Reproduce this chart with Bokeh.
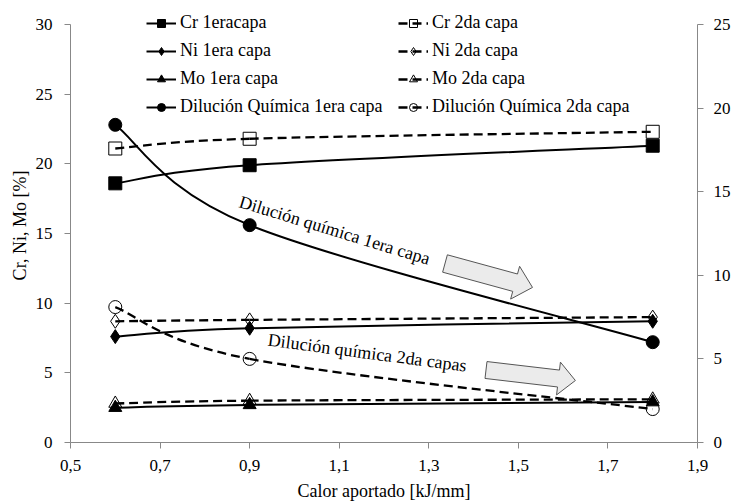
import math
from bokeh.plotting import figure
from bokeh.models import (Range1d, LinearAxis, Legend, LegendItem, Label,
                          CustomJSTickFormatter, FixedTicker, ColumnDataSource)
from bokeh.embed import file_html
from bokeh.resources import INLINE

# ---------------- data ----------------
calor = [0.6, 0.9, 1.8]                 # Calor aportado [kJ/mm]
cr_1 = [18.6, 19.9, 21.3]
cr_2 = [21.1, 21.8, 22.3]
ni_1 = [7.6, 8.2, 8.7]
ni_2 = [8.7, 8.8, 9.0]
mo_1 = [2.5, 2.7, 2.9]
mo_2 = [2.8, 3.0, 3.1]
dil_1 = [19.0, 13.0, 6.0]               # Dilución química (eje derecho)
dil_2 = [8.1, 5.0, 2.0]

x_ticks = [0.5, 0.7, 0.9, 1.1, 1.3, 1.5, 1.7, 1.9]
y_ticks_left = [0, 5, 10, 15, 20, 25, 30]
y_ticks_right = [0, 5, 10, 15, 20, 25]

labels_1 = ["Cr 1eracapa", "Ni 1era capa", "Mo 1era capa", "Dilución Química 1era capa"]
labels_2 = ["Cr 2da capa", "Ni 2da capa", "Mo 2da capa", "Dilución Química 2da capa"]

# ---------------- layout ----------------
FONT = "Liberation Serif"
FW = 627
AXIS_H = 418            # pixel height of the 0..30 axis
EXT = 16                # extra frame room above the axis top (for the legend)
FH = AXIS_H + EXT
XR = (0.5, 1.9)
YL_AX = (0, 30)
YR_AX = (0, 25)
px_x = FW / (XR[1] - XR[0])
px_y = AXIS_H / (YL_AX[1] - YL_AX[0])
YL = (0, YL_AX[1] + EXT / px_y)
YR = (0, YR_AX[1] * YL[1] / YL_AX[1])
AX_COL = "#888888"

p = figure(frame_width=FW, frame_height=FH, x_range=Range1d(*XR), y_range=Range1d(*YL),
           output_backend="svg", toolbar_location=None, title=None,
           min_border_left=70, min_border_right=56, min_border_top=24 - EXT, min_border_bottom=58)
p.extra_y_ranges = {"dil": Range1d(*YR)}
p.outline_line_color = None
p.grid.visible = False
p.background_fill_color = "white"
p.border_fill_color = "white"


def to_data(fx, fy):
    """pixel offsets from the axis' top-left corner -> left-axis data coords"""
    return XR[0] + fx / px_x, YL_AX[1] - fy / px_y


def smooth_src(xs, ys):
    n = len(xs)
    d = dict(x0=[], y0=[], x1=[], y1=[], cx0=[], cy0=[], cx1=[], cy1=[])
    for i in range(n - 1):
        im, ip = max(i - 1, 0), min(i + 2, n - 1)
        d["x0"].append(xs[i]); d["y0"].append(ys[i])
        d["x1"].append(xs[i + 1]); d["y1"].append(ys[i + 1])
        d["cx0"].append(xs[i] + (xs[i + 1] - xs[im]) / 6)
        d["cy0"].append(ys[i] + (ys[i + 1] - ys[im]) / 6)
        d["cx1"].append(xs[i + 1] - (xs[ip] - xs[i]) / 6)
        d["cy1"].append(ys[i + 1] - (ys[ip] - ys[i]) / 6)
    return ColumnDataSource(d)


def curve(ys, dashed, rng=None):
    kw = dict(line_color="black", line_width=2)
    if dashed:
        kw["line_dash"] = "9 5"
        kw["line_width"] = 2.3
    if rng:
        kw["y_range_name"] = rng
    return p.bezier(x0="x0", y0="y0", x1="x1", y1="y1", cx0="cx0", cy0="cy0",
                    cx1="cx1", cy1="cy1", source=smooth_src(calor, ys), **kw)


def pts(ys, marker, size, filled, rng=None):
    kw = dict(marker=marker, size=size, line_color="black", line_width=1)
    kw["fill_color"] = "black" if filled else None
    if rng:
        kw["y_range_name"] = rng
    return p.scatter(calor, ys, **kw)


# second layer (dashed, open markers)
c_cr2 = curve(cr_2, True); c_ni2 = curve(ni_2, True); c_mo2 = curve(mo_2, True)
c_d2 = curve(dil_2, True, "dil")
# first layer (solid, filled markers)
c_cr1 = curve(cr_1, False); c_ni1 = curve(ni_1, False); c_mo1 = curve(mo_1, False)
c_d1 = curve(dil_1, False, "dil")

s_cr2 = pts(cr_2, "square", 13, False)
s_ni2 = pts(ni_2, "diamond", 14, False)
s_mo2 = pts(mo_2, "triangle", 13, False)
s_d2 = pts(dil_2, "circle", 13, False, "dil")
s_cr1 = pts(cr_1, "square", 13, True)
s_ni1 = pts(ni_1, "diamond", 14, True)
s_mo1 = pts(mo_1, "triangle", 13, True)
s_d1 = pts(dil_1, "circle", 13, True, "dil")

# ---------------- axes ----------------
fmt_dec = CustomJSTickFormatter(code="return tick.toFixed(1).replace('.', ',');")
fmt_int = CustomJSTickFormatter(code="return tick.toFixed(0);")

xa = p.xaxis[0]
xa.ticker = FixedTicker(ticks=x_ticks)
xa.formatter = fmt_dec
xa.axis_label = "Calor aportado [kJ/mm]"
xa.major_label_standoff = 11
xa.axis_label_standoff = 7

ya = p.yaxis[0]
ya.ticker = FixedTicker(ticks=y_ticks_left)
ya.formatter = fmt_int
ya.bounds = YL_AX
ya.axis_label = "Cr, Ni, Mo [%]"
ya.major_label_standoff = 12
ya.axis_label_standoff = 3

ra = LinearAxis(y_range_name="dil", ticker=FixedTicker(ticks=y_ticks_right), formatter=fmt_int)
ra.bounds = YR_AX
ra.major_label_standoff = 10
p.add_layout(ra, "right")

for ax in (xa, ya, ra):
    ax.axis_line_color = AX_COL
    ax.axis_line_width = 1
    ax.major_tick_line_color = AX_COL
    ax.minor_tick_line_color = None
    ax.major_tick_in = 0
    ax.major_tick_out = 6
    ax.major_label_text_font = FONT
    ax.major_label_text_font_size = "17px"
    ax.major_label_text_color = "black"
    ax.axis_label_text_font = FONT
    ax.axis_label_text_font_size = "18px"
    ax.axis_label_text_font_style = "normal"
    ax.axis_label_text_color = "black"

# right axis title (reads bottom-to-top)
rx, ry = to_data(FW + 43, AXIS_H / 2)
p.add_layout(Label(x=rx, y=ry, text="Dilución Química [%]", angle=90, angle_units="deg",
                   text_align="center", text_baseline="middle", text_font=FONT,
                   text_font_size="18px", text_color="black"))

# ---------------- block arrows ----------------
def block_arrow(fx, fy, ang, length, bh, hh, hl):
    local = [(0, -bh / 2), (length - hl, -bh / 2), (length - hl, -hh / 2), (length, 0),
             (length - hl, hh / 2), (length - hl, bh / 2), (0, bh / 2)]
    a = math.radians(ang)
    xs, ys = [], []
    for lx, ly in local:
        sx = fx + lx * math.cos(a) - ly * math.sin(a)
        sy = fy + lx * math.sin(a) + ly * math.cos(a)
        dx, dy = to_data(sx, sy)
        xs.append(dx); ys.append(dy)
    p.patch(xs, ys, fill_color="#ebebeb", line_color="#555555", line_width=1)

block_arrow(374.5, 239, 15.3, 90.7, 18, 34, 18)
block_arrow(415.5, 345.5, 6.7, 90, 17, 33, 17)

# ---------------- annotations ----------------
p.add_layout(Label(x=0.878, y=17.32, text="Dilución química 1era capa", angle=-17,
                   angle_units="deg", text_align="left", text_baseline="middle",
                   text_font=FONT, text_font_size="18px", text_color="black"))
p.add_layout(Label(x=0.941, y=7.38, text="Dilución química 2da capas", angle=-7.5,
                   angle_units="deg", text_align="left", text_baseline="middle",
                   text_font=FONT, text_font_size="18px", text_color="black"))

# ---------------- legends ----------------
def make_legend(labels, rends, loc):
    items = [LegendItem(label=l, renderers=list(r)) for l, r in zip(labels, rends)]
    lg = Legend(items=items, location=loc, orientation="vertical")
    lg.label_text_font = FONT
    lg.label_text_font_size = "18px"
    lg.label_text_color = "black"
    lg.glyph_width = 30
    lg.glyph_height = 20
    lg.label_height = 20
    lg.spacing = 7
    lg.padding = 0
    lg.margin = 0
    lg.label_standoff = 4
    lg.border_line_color = None
    lg.background_fill_alpha = 0
    return lg

leg1 = make_legend(labels_1, [(c_cr1, s_cr1), (c_ni1, s_ni1), (c_mo1, s_mo1), (c_d1, s_d1)], (76, 325))
leg2 = make_legend(labels_2, [(c_cr2, s_cr2), (c_ni2, s_ni2), (c_mo2, s_mo2), (c_d2, s_d2)], (328, 325))
p.add_layout(leg1, "center")
p.add_layout(leg2, "center")

open("out.html", "w").write(file_html(p, INLINE))
